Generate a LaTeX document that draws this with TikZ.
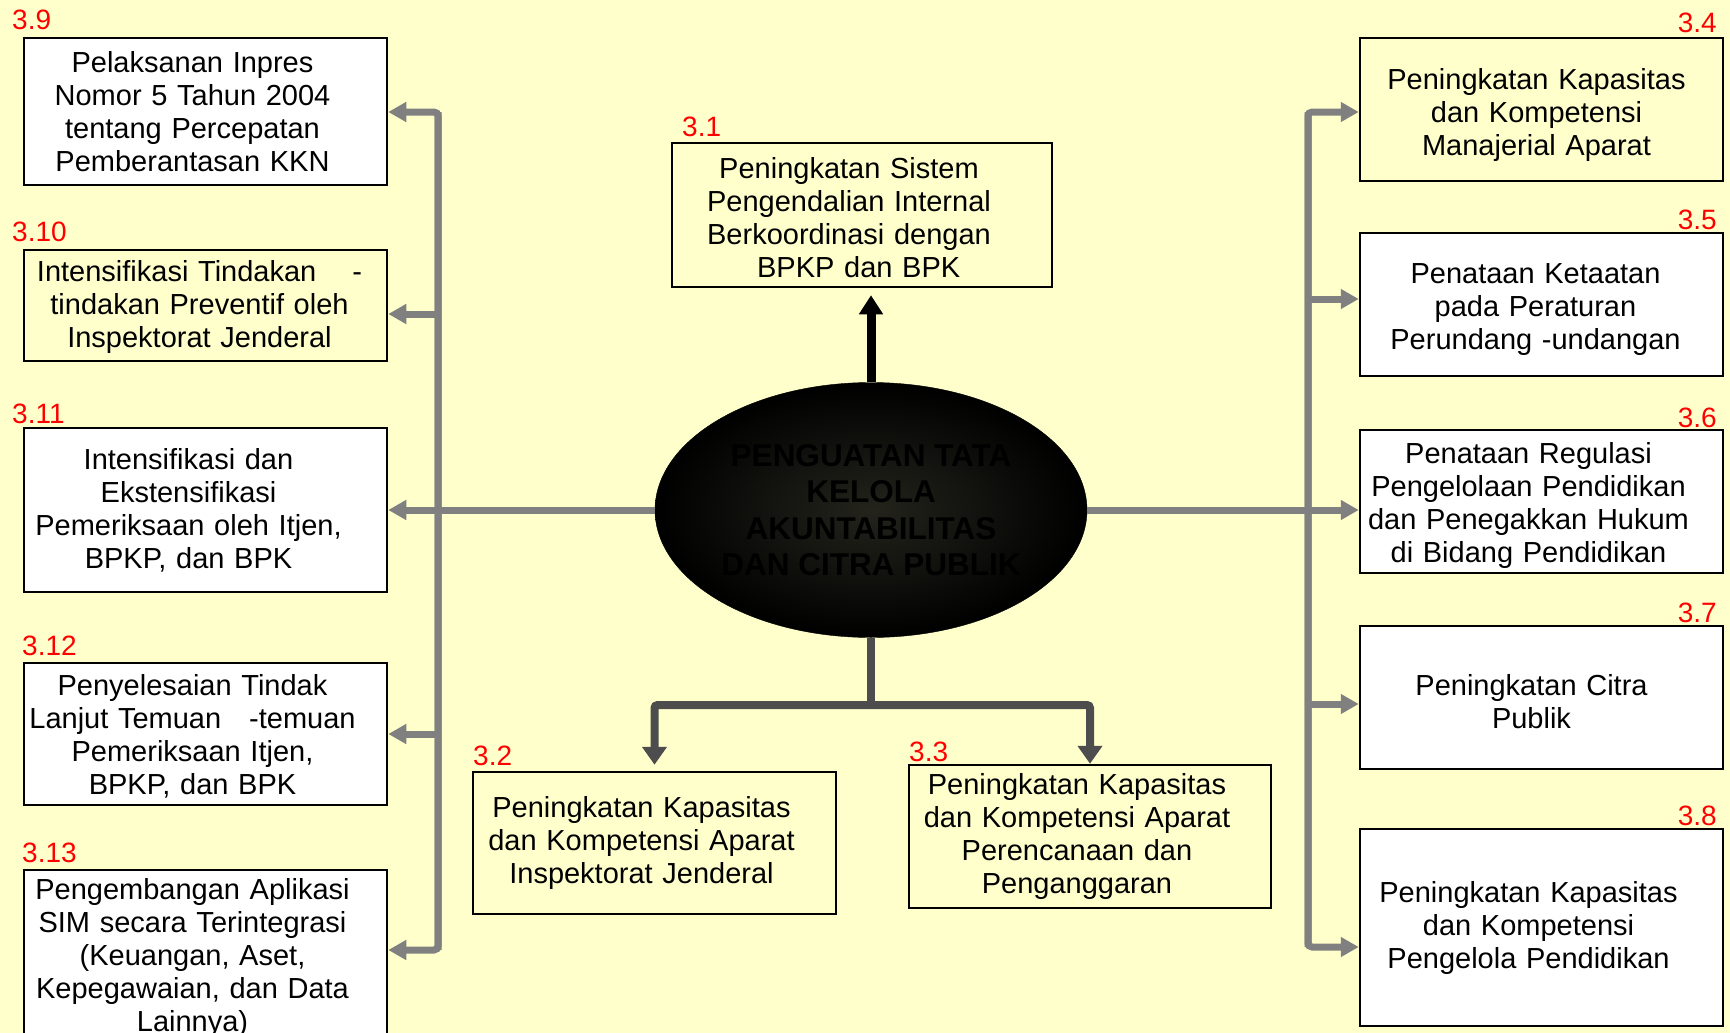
\documentclass[tikz,border=0pt]{standalone}
\usepackage{fontspec}
\setmainfont{Liberation Sans}
\usetikzlibrary{shapes.geometric,arrows.meta}
\definecolor{bgyellow}{HTML}{FFFFCC}
\definecolor{linegray}{HTML}{808080}
\definecolor{splitgray}{HTML}{4D4D4D}
\begin{document}
\begin{tikzpicture}[x=1pt,y=-1pt,
		textnudge/.store in=\textnudge,textnudge=26pt,
		textdrop/.store in=\textdrop,textdrop=0pt,
		box/.style={draw,line width=2.5pt,align=center,text width=356pt,minimum width=363pt,inner sep=2pt,
			font=\fontsize{29}{33}\selectfont,
			execute at begin node={\parindent=0pt\leftskip=0pt plus 1fil\rightskip=\textnudge plus 1fil\parfillskip=0pt\rule{0pt}{\textdrop}}},
		wbox/.style={box,fill=white},
		ybox/.style={box,fill=bgyellow},
		num/.style={text=red,inner sep=0pt,font=\fontsize{28}{33}\selectfont},
		grayarr/.style={linegray,line width=7pt,-{Triangle[width=19pt,length=18pt]}},
		splitarr/.style={splitgray,line width=8pt,-{Triangle[width=24pt,length=18pt]}},
		blackarr/.style={black,line width=9pt,-{Triangle[width=23pt,length=19pt]}}]
		\clip (0,0) rectangle (1730,1033);
		\fill[bgyellow] (0,0) rectangle (1730,1033);
		% centre
		\node [ellipse,draw=black,shade,inner color=black!86!bgyellow,outer color=black,minimum width=432pt,minimum height=255pt,inner sep=0pt,align=center,font=\bfseries\fontsize{31.5}{36.5}\selectfont] (hub) at (871,510) {PENGUATAN TATA\\KELOLA\\AKUNTABILITAS\\DAN CITRA PUBLIK};
		\node [ybox,text width=373pt,minimum width=380pt,minimum height=144pt,textdrop=27pt] (b31) at (862,215) {Peningkatan Sistem\\Pengendalian Internal\\Berkoordinasi dengan\\\ \ BPKP dan BPK};
		\node [ybox,minimum height=142pt] (b32) at (654.5,843) {Peningkatan Kapasitas\\dan Kompetensi Aparat\\Inspektorat Jenderal};
		\node [ybox,minimum width=362pt,minimum height=143pt] (b33) at (1090,836.5) {Peningkatan Kapasitas\\dan Kompetensi Aparat\\Perencanaan dan\\Penganggaran};
		% right column
		\node [ybox,minimum height=143pt,textnudge=10pt,textdrop=32pt] (b34) at (1541.5,109.5) {Peningkatan Kapasitas\\dan Kompetensi\\Manajerial Aparat};
		\node [wbox,minimum height=143pt,textnudge=12pt,textdrop=30pt] (b35) at (1541.5,304.5) {Penataan Ketaatan\\pada Peraturan\\Perundang -undangan};
		\node [wbox,minimum height=143pt,textdrop=30pt] (b36) at (1541.5,501.5) {Penataan Regulasi\\Pengelolaan Pendidikan\\dan Penegakkan Hukum\\di Bidang Pendidikan};
		\node [wbox,minimum height=143pt,textnudge=20pt,textdrop=29pt] (b37) at (1541.5,697.5) {Peningkatan Citra\\Publik};
		\node [wbox,minimum height=197pt] (b38) at (1541.5,927.5) {Peningkatan Kapasitas\\dan Kompetensi\\Pengelola Pendidikan};
		% left column
		\node [wbox,minimum height=147pt] (b39) at (205.5,111.5) {Pelaksanan Inpres\\Nomor 5 Tahun 2004\\tentang Percepatan\\Pemberantasan KKN};
		\node [ybox,minimum height=111pt,textnudge=12pt,textdrop=25pt] (b310) at (205.5,305.5) {Intensifikasi Tindakan\hspace{36pt}-\\tindakan Preventif oleh\\Inspektorat Jenderal};
		\node [wbox,minimum height=164pt,textnudge=34pt] (b311) at (205.5,510) {Intensifikasi dan\\Ekstensifikasi\\Pemeriksaan oleh Itjen,\\BPKP, dan BPK};
		\node [wbox,minimum height=142pt,textdrop=25pt] (b312) at (205.5,734) {Penyelesaian Tindak\\Lanjut Temuan\hspace{28pt}-temuan\\Pemeriksaan Itjen,\\BPKP, dan BPK};
		\node [wbox,minimum height=175pt] (b313) at (205.5,957.5) {Pengembangan Aplikasi\\SIM secara Terintegrasi\\(Keuangan, Aset,\\Kepegawaian, dan Data\\Lainnya)};
		% numbers
		\node [num,anchor=base west] (n31) at (682,136) {3.1};
		\node [num,anchor=base west] (n32) at (473,765) {3.2};
		\node [num,anchor=base west] (n33) at (909,761) {3.3};
		\node [num,anchor=base east] (n34) at (1717,33) {3.4};
		\node [num,anchor=base east] (n35) at (1717,229) {3.5};
		\node [num,anchor=base east] (n36) at (1717,427) {3.6};
		\node [num,anchor=base east] (n37) at (1717,622) {3.7};
		\node [num,anchor=base east] (n38) at (1717,825) {3.8};
		\node [num,anchor=base west] (n39) at (12,30) {3.9};
		\node [num,anchor=base west] (n310) at (12,241) {3.10};
		\node [num,anchor=base west] (n311) at (12,423) {3.11};
		\node [num,anchor=base west] (n312) at (22,655) {3.12};
		\node [num,anchor=base west] (n313) at (22,862) {3.13};
		% trunks
		\coordinate (lt1) at (438,112);
		\coordinate (lt2) at (438,314);
		\coordinate (lt4) at (438,734);
		\coordinate (lt5) at (438,950);
		\coordinate (rt1) at (1308,112);
		\coordinate (rt2) at (1308,299);
		\coordinate (rt4) at (1308,704);
		\coordinate (rt5) at (1308,947);
		\coordinate (split) at (871,705);
		\draw[grayarr,rounded corners=4pt] (lt5) -- (lt1) -- (lt1 -| b39.east);
		\draw[grayarr,rounded corners=4pt] (lt1) -- (lt5) -- (lt5 -| b313.east);
		\draw[grayarr] (lt2) -- (lt2 -| b310.east);
		\draw[grayarr] (lt4) -- (lt4 -| b312.east);
		\draw[grayarr] (hub.west) -- (hub.west -| b311.east);
		\draw[grayarr,rounded corners=4pt] (rt5) -- (rt1) -- (rt1 -| b34.west);
		\draw[grayarr,rounded corners=4pt] (rt1) -- (rt5) -- (rt5 -| b38.west);
		\draw[grayarr] (rt2) -- (rt2 -| b35.west);
		\draw[grayarr] (rt4) -- (rt4 -| b37.west);
		\draw[grayarr] (hub.east) -- (hub.east -| b36.west);
		% up and down
		\draw[blackarr,shorten >=7pt] (hub.north) -- (hub.north |- b31.south);
		\draw[splitgray,line width=8pt] (hub.south) -- (split);
		\draw[splitarr,rounded corners=3pt,shorten >=6pt] (split) -| (b32.north);
		\draw[splitarr,rounded corners=3pt] (split) -| (b33.north);
	\end{tikzpicture}
\end{document}
